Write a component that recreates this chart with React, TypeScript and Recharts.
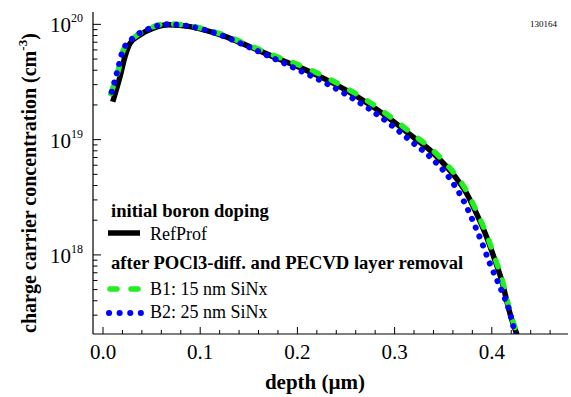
import React from 'react';
import { LineChart, Line, XAxis, YAxis, Legend } from 'recharts';

const FONT = '"Liberation Serif", "Times New Roman", Times, serif';

// depth in µm, concentration in cm^-3
const refDepth = [0.010, 0.0175, 0.0226, 0.0278, 0.038, 0.0518, 0.068, 0.0895, 0.103, 0.124, 0.150, 0.175, 0.200, 0.225, 0.250, 0.275, 0.300, 0.3189, 0.3364, 0.3539, 0.3642, 0.3735, 0.3837, 0.3947, 0.4033, 0.4102, 0.4153, 0.4187, 0.4259];
const refConc = [2.13e19, 3.52e19, 5.25e19, 6.85e19, 8.1e19, 9.27e19, 9.9e19, 9.55e19, 9.0e19, 7.94e19, 6.46e19, 5.25e19, 4.32e19, 3.47e19, 2.69e19, 2.0e19, 1.41e19, 1.057e19, 8.11e18, 5.77e18, 4.54e18, 3.49e18, 2.34e18, 1.43e18, 8.95e17, 6.0e17, 4.02e17, 3.1e17, 2.04e17];

const b1Depth = [0.008, 0.0158, 0.0209, 0.0312, 0.045, 0.066, 0.0895, 0.124, 0.150, 0.175, 0.200, 0.225, 0.250, 0.275, 0.300, 0.3189, 0.3364, 0.3539, 0.3642, 0.3735, 0.3837, 0.3947, 0.4033, 0.4102, 0.4153, 0.4187, 0.4265];
const b1Conc = [2.51e19, 4.02e19, 6.0e19, 7.59e19, 9.0e19, 1.01e20, 9.7e19, 8.1e19, 6.6e19, 5.4e19, 4.5e19, 3.62e19, 2.8e19, 2.09e19, 1.48e19, 1.11e19, 8.5e18, 6.05e18, 4.77e18, 3.66e18, 2.45e18, 1.5e18, 9.4e17, 6.3e17, 4.22e17, 3.25e17, 2.04e17];

const b2Depth = [0.009, 0.015, 0.02, 0.03, 0.045, 0.066, 0.0895, 0.124, 0.150, 0.175, 0.200, 0.225, 0.250, 0.275, 0.300, 0.3189, 0.3364, 0.3604, 0.3724, 0.381, 0.3896, 0.3981, 0.4067, 0.4136, 0.417, 0.4245];
const b2Conc = [2.6e19, 4.0e19, 5.8e19, 7.5e19, 9.0e19, 1.0e20, 9.6e19, 7.9e19, 6.35e19, 5.1e19, 4.06e19, 3.22e19, 2.47e19, 1.82e19, 1.27e19, 9.4e18, 7.1e18, 4.16e18, 2.79e18, 1.93e18, 1.29e18, 8.38e17, 5.7e17, 4.16e17, 3.5e17, 1.95e17];

const xTicks = [0, 0.02, 0.04, 0.06, 0.08, 0.1, 0.12, 0.14, 0.16, 0.18, 0.2, 0.22, 0.24, 0.26, 0.28, 0.3, 0.32, 0.34, 0.36, 0.38, 0.4, 0.42, 0.44, 0.46];
const yTicks = [3e17, 4e17, 5e17, 6e17, 7e17, 8e17, 9e17, 1e18, 2e18, 3e18, 4e18, 5e18, 6e18, 7e18, 8e18, 9e18, 1e19, 2e19, 3e19, 4e19, 5e19, 6e19, 7e19, 8e19, 9e19, 1e20];

const X_DOMAIN = [-0.0103, 0.4784];
const Y_DOMAIN = [2.06e17, 1.28e20];

const toPoints = (xs: number[], ys: number[]) => xs.map((x, i) => ({ x, y: ys[i] }));
const refData = toPoints(refDepth, refConc);
const b1Data = toPoints(b1Depth, b1Conc);
const b2Data = toPoints(b2Depth, b2Conc);

const isMajorX = (v: number) => Math.abs(v * 10 - Math.round(v * 10)) < 1e-6;
const isMajorY = (v: number) => {
  const e = Math.round(Math.log10(v));
  return Math.abs(v - Math.pow(10, e)) / v < 1e-6;
};

const BottomTick = (props: any) => {
  const { x, y, payload } = props;
  const v = payload.value;
  const major = isMajorX(v);
  return (
    <g>
      <line x1={x} x2={x} y1={y} y2={y - (major ? 7 : 4)} stroke="#000" strokeWidth={1} />
      {major && (
        <text x={x} y={y + 25} textAnchor="middle" fontSize={21} fontFamily={FONT} fill="#000">
          {v.toFixed(1)}
        </text>
      )}
    </g>
  );
};

const TopTick = (props: any) => {
  const { x, y, payload } = props;
  const major = isMajorX(payload.value);
  return <line x1={x} x2={x} y1={y} y2={y + (major ? 7 : 4)} stroke="#000" strokeWidth={1} />;
};

const LeftTick = (props: any) => {
  const { x, y, payload } = props;
  const v = payload.value;
  const major = isMajorY(v);
  const e = Math.round(Math.log10(v));
  return (
    <g>
      <line x1={x} x2={x + (major ? 8 : 4.5)} y1={y} y2={y} stroke="#000" strokeWidth={1} />
      {major && (
        <text x={x - 43} y={y + 8} textAnchor="start" fontSize={21} fontFamily={FONT} fill="#000">
          <tspan>10</tspan>
          <tspan dy={-10} fontSize={12}>{e}</tspan>
        </text>
      )}
    </g>
  );
};

const RightTick = (props: any) => {
  const { x, y, payload } = props;
  const major = isMajorY(payload.value);
  return <line x1={x} x2={x - (major ? 8 : 4.5)} y1={y} y2={y} stroke="#000" strokeWidth={1} />;
};

const XTitle = () => (
  <text x={315} y={389} textAnchor="middle" fontSize={21} fontWeight="bold" fontFamily={FONT} fill="#000">
    depth (µm)
  </text>
);

const YTitle = () => (
  <text
    x={0}
    y={0}
    transform="translate(36 333) rotate(-90)"
    textAnchor="start"
    fontSize={20}
    fontWeight="bold"
    fontFamily={FONT}
    fill="#000"
  >
    <tspan>charge carrier concentration (cm</tspan>
    <tspan dy={-9} fontSize={13}>-3</tspan>
    <tspan dy={9}>)</tspan>
  </text>
);

const GREEN = '#22ee22';
const BLUE = '#0000ff';

const LegendBox = () => (
  <svg width={571} height={397} style={{ position: 'absolute', left: 0, top: 0, pointerEvents: 'none' }}>
    <g fontFamily={FONT} fill="#000">
      <text x={111} y={217} fontSize={18.6} fontWeight="bold">initial boron doping</text>
      <line x1={108} x2={140} y1={233} y2={233} stroke="#000" strokeWidth={5.5} />
      <text x={150} y={240} fontSize={18}>RefProf</text>
      <text x={111} y={269} fontSize={18.6} fontWeight="bold">after POCl3-diff. and PECVD layer removal</text>
      <line x1={110} x2={140} y1={289} y2={289} stroke={GREEN} strokeWidth={5.5} strokeDasharray="7 14" strokeLinecap="round" />
      <text x={150} y={295} fontSize={18}>B1: 15 nm SiNx</text>
      <line x1={109} x2={141} y1={313} y2={313} stroke={BLUE} strokeWidth={6} strokeDasharray="0.1 10.5" strokeLinecap="round" />
      <text x={150} y={318} fontSize={18}>B2: 25 nm SiNx</text>
      <text x={530} y={27} fontSize={9}>130164</text>
    </g>
  </svg>
);

export default function App() {
  return (
    <div style={{ position: 'absolute', left: 0, top: 0, width: 571, height: 397, background: '#fff' }}>
      <LineChart width={571} height={397} margin={{ top: 12, right: 3, bottom: 0, left: 0 }}>
        <XAxis
          xAxisId="b"
          dataKey="x"
          type="number"
          orientation="bottom"
          domain={X_DOMAIN}
          allowDataOverflow
          ticks={xTicks}
          interval={0}
          height={63}
          tickSize={0}
          tickMargin={0}
          tickLine={false}
          tick={BottomTick}
          axisLine={{ stroke: '#000', strokeWidth: 1.2 }}
          label={{ content: XTitle }}
        />
        <XAxis
          xAxisId="t"
          dataKey="x"
          type="number"
          orientation="top"
          domain={X_DOMAIN}
          allowDataOverflow
          ticks={xTicks}
          interval={0}
          height={0}
          tickSize={0}
          tickMargin={0}
          tickLine={false}
          tick={TopTick}
          axisLine={{ stroke: '#000', strokeWidth: 1.2 }}
        />
        <YAxis
          yAxisId="l"
          dataKey="y"
          type="number"
          scale="log"
          orientation="left"
          domain={Y_DOMAIN}
          allowDataOverflow
          ticks={yTicks}
          interval={0}
          width={93}
          tickSize={0}
          tickMargin={0}
          tickLine={false}
          tick={LeftTick}
          axisLine={{ stroke: '#000', strokeWidth: 1.2 }}
          label={{ content: YTitle }}
        />
        <YAxis
          yAxisId="r"
          dataKey="y"
          type="number"
          scale="log"
          orientation="right"
          domain={Y_DOMAIN}
          allowDataOverflow
          ticks={yTicks}
          interval={0}
          width={0}
          tickSize={0}
          tickMargin={0}
          tickLine={false}
          tick={RightTick}
          axisLine={{ stroke: '#000', strokeWidth: 1.2 }}
        />
        <Line
          xAxisId="b"
          yAxisId="l"
          data={refData}
          dataKey="y"
          type="monotone"
          stroke="#000"
          strokeWidth={5.5}
          dot={false}
          isAnimationActive={false}
          name="RefProf"
        />
        <Line
          xAxisId="b"
          yAxisId="l"
          data={b1Data}
          dataKey="y"
          type="monotone"
          stroke={GREEN}
          strokeWidth={5.5}
          strokeDasharray="7 14"
          strokeLinecap="round"
          dot={false}
          isAnimationActive={false}
          name="B1: 15 nm SiNx"
        />
        <Line
          xAxisId="b"
          yAxisId="l"
          data={b2Data}
          dataKey="y"
          type="monotone"
          stroke={BLUE}
          strokeWidth={6}
          strokeDasharray="0.1 9.5"
          strokeLinecap="round"
          dot={false}
          isAnimationActive={false}
          name="B2: 25 nm SiNx"
        />
        <Legend
          layout="vertical"
          align="center"
          verticalAlign="middle"
          wrapperStyle={{ position: 'absolute', left: 0, top: 0, width: 571, height: 397, pointerEvents: 'none' }}
          content={LegendBox}
        />
      </LineChart>
    </div>
  );
}
